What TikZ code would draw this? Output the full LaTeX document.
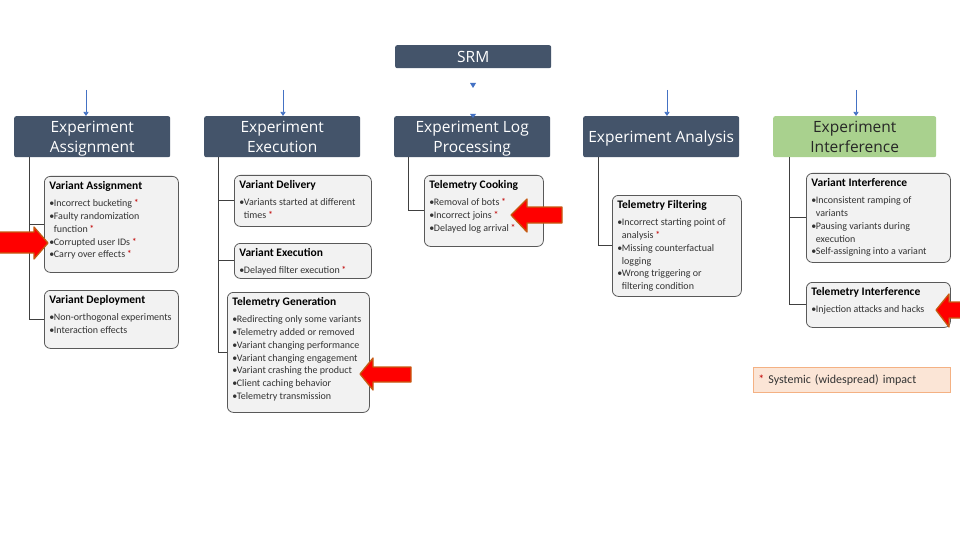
\documentclass[tikz,border=0pt]{standalone}
\usepackage{fontspec}
\setmainfont{Carlito}
\newfontfamily\hdfont{Open Sans}
\usetikzlibrary{arrows.meta}
\definecolor{hdrc}{HTML}{44546A}
\definecolor{grn}{HTML}{A9D18E}
\definecolor{boxf}{HTML}{F2F2F2}
\definecolor{boxd}{HTML}{595959}
\definecolor{treec}{HTML}{404040}
\definecolor{txt}{HTML}{333333}
\definecolor{astc}{HTML}{C00000}
\definecolor{blu}{HTML}{4472C4}
\definecolor{arrf}{HTML}{FF0000}
\definecolor{arrd}{HTML}{C55A11}
\definecolor{legf}{HTML}{FBE5D6}
\definecolor{legd}{HTML}{F4B183}
\definecolor{dk}{HTML}{262626}
\newcommand{\rast}{\,{\color{astc}*}}
\newcommand{\bitem}[1]{\par\noindent\makebox[4.5pt][l]{•}\mbox{#1}}
\newcommand{\bitemb}[2]{\par\noindent\makebox[4.5pt][l]{•}\mbox{#1}\par\noindent\hspace*{4.5pt}\mbox{#2}}
\newcommand{\subc}[4]{\parbox[t][#2pt][t]{#1pt}{{\fontsize{11.5}{13}\selectfont\bfseries\mbox{#3}\par}\vspace{4.5pt}\color{txt}\fontsize{10}{12.8}\selectfont #4}}
\newcommand{\dsc}{\vphantom{gy}}
\newcommand{\tps}{\rule{0pt}{15.5pt}}
\begin{document}
\begin{tikzpicture}[x=1pt,y=-1pt,
 hdr/.style={fill=hdrc, rounded corners=2pt, text=white, font=\hdfont\fontsize{15.5}{19.5}\selectfont, inner sep=0pt, minimum height=41pt, anchor=north west, align=center},
 sub/.style={draw=boxd, fill=boxf, rounded corners=6pt, line width=0.8pt, inner xsep=5pt, inner ysep=5pt, anchor=north west},
 tree/.style={draw=treec, line width=0.9pt},
 barrow/.style={draw=blu, line width=0.7pt, -{Triangle[width=5pt,length=4pt]}},
 redarr/.style={fill=arrf, draw=arrd, line width=1.3pt, line join=round},
 legend/.style={fill=legf, draw=legd, line width=0.8pt, anchor=north west, minimum width=197pt, minimum height=25pt, text width=187pt, inner xsep=5pt, align=left, text=txt, font=\fontsize{12}{14}\selectfont}]
\fill[white] (0,0) rectangle (960,540);
\useasboundingbox (0,0) rectangle (960,540);

% top
\node[hdr, minimum width=156pt, minimum height=23pt, font=\hdfont\fontsize{15.5}{17}\selectfont] (SRM) at (395,45) {SRM};
\node[hdr, minimum width=156pt] (H1) at (14,116) {\tps Experiment\\Assignment\dsc};
\node[hdr, minimum width=156pt] (H2) at (204,116) {\tps Experiment\\Execution\dsc};
\node[hdr, minimum width=156pt] (H3) at (394,116) {\tps Experiment Log\\Processing\dsc};
\node[hdr, minimum width=156pt] (H4) at (583,116) {\tps Experiment Analysis\dsc};
\node[hdr, minimum width=163pt, fill=grn, text=dk] (H5) at (773,116) {\tps Experiment\\Interference\dsc};

% blue arrows
\coordinate (b1) at (86,90);
\coordinate (b2) at (283,90);
\coordinate (b4) at (667,90);
\coordinate (b5) at (856,90);
\draw[barrow] (b1) -- (b1 |- H1.north);
\draw[barrow] (b2) -- (b2 |- H2.north);
\draw[barrow] (b4) -- (b4 |- H4.north);
\draw[barrow] (b5) -- (b5 |- H5.north);
\fill[blu] (470,83) -- (476,83) -- (473,88) -- cycle;
\fill[blu] (470,114) -- (476,114) -- (473,118) -- cycle;

% sub boxes
\node[sub] (VA) at (44,176) {\subc{124}{86}{Variant Assignment}{\bitem{Incorrect bucketing\rast}\bitemb{Faulty randomization}{function\rast}\bitem{Corrupted user IDs\rast}\bitem{Carry over effects\rast}}};
\node[sub] (VD) at (44,290) {\subc{124}{48}{Variant Deployment}{\bitem{Non-orthogonal experiments}\bitem{Interaction effects}}};
\node[sub] (VDel) at (234,175) {\subc{127}{41}{Variant Delivery}{\bitemb{Variants started at different}{times\rast}}};
\node[sub] (VE) at (234,243) {\subc{127}{25}{Variant Execution}{\bitem{Delayed filter execution\rast}}};
\node[sub] (TG) at (227,292) {\subc{132}{110}{Telemetry Generation}{\bitem{Redirecting only some variants}\bitem{Telemetry added or removed}\bitem{Variant changing performance}\bitem{Variant changing engagement}\bitem{Variant crashing the product}\bitem{Client caching behavior}\bitem{Telemetry transmission}}};
\node[sub] (TC) at (424,175) {\subc{109}{61}{Telemetry Cooking}{\bitem{Removal of bots\rast}\bitem{Incorrect joins\rast}\bitem{Delayed log arrival\rast}}};
\node[sub] (TF) at (612,195) {\subc{119}{91}{Telemetry Filtering}{\bitemb{Incorrect starting point of}{analysis\rast}\bitemb{Missing counterfactual}{logging}\bitemb{Wrong triggering or}{filtering condition}}};
\node[sub] (VI) at (806,173) {\subc{134}{79}{Variant Interference}{\bitemb{Inconsistent ramping of}{variants}\bitemb{Pausing variants during}{execution}\bitem{Self-assigning into a variant}}};
\node[sub] (TI) at (806,282) {\subc{134}{35}{Telemetry Interference}{\bitem{Injection attacks and hacks}}};

% tree lines
\draw[tree] ([xshift=15pt]H1.south west) |- (VA.west);
\draw[tree] ([xshift=15pt]H1.south west) |- (VD.west);
\draw[tree] ([xshift=14pt]H2.south west) |- (VDel.west);
\draw[tree] ([xshift=14pt]H2.south west) |- (VE.west);
\draw[tree] ([xshift=14pt]H2.south west) |- (TG.west);
\draw[tree] ([xshift=14pt]H3.south west) |- (TC.west);
\draw[tree] ([xshift=15pt]H4.south west) |- (TF.west);
\draw[tree] ([xshift=16pt]H5.south west) |- (VI.west);
\draw[tree] ([xshift=16pt]H5.south west) |- (TI.west);

% legend
\node[legend] (LG) at (753,367) {{\color{astc}*} Systemic (widespread) impact};

% red arrows
\filldraw[redarr] (-5,232) -- (34,232) -- (34,227) -- (48,243) -- (34,259) -- (34,253) -- (-5,253) -- cycle;
\filldraw[redarr] (411,367) -- (373,367) -- (373,358) -- (360,374) -- (373,390) -- (373,382) -- (411,382) -- cycle;
\filldraw[redarr] (562,207) -- (527,207) -- (527,199) -- (511,215) -- (527,232) -- (527,223) -- (562,223) -- cycle;
\filldraw[redarr] (975,302) -- (949,302) -- (949,294) -- (936,310) -- (949,327) -- (949,318) -- (975,318) -- cycle;
\end{tikzpicture}
\end{document}
